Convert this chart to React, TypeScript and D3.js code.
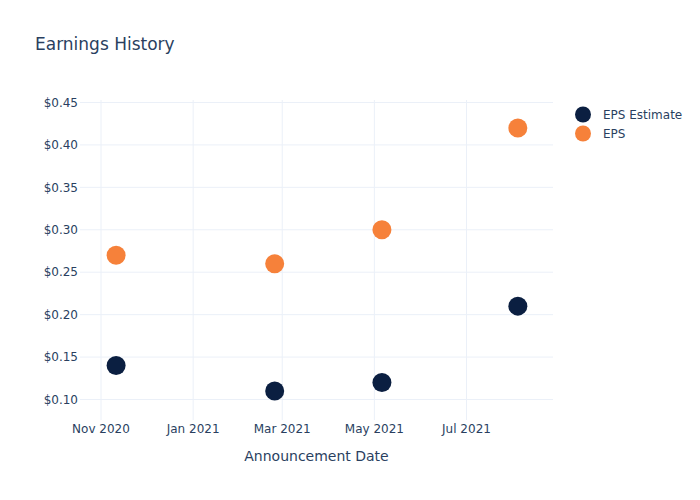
import React from "react";
import * as d3 from "d3";

const dates = ["2020-11-11", "2021-02-24", "2021-05-06", "2021-08-04"];
const epsEstimate = [0.14, 0.11, 0.12, 0.21];
const eps = [0.27, 0.26, 0.3, 0.42];
const yTicks = [0.1, 0.15, 0.2, 0.25, 0.3, 0.35, 0.4, 0.45];
const xTicks = ["2020-11-01", "2021-01-01", "2021-03-01", "2021-05-01", "2021-07-01"];
const seriesNames = ["EPS Estimate", "EPS"];
const colors = ["#0b1f41", "#f6813a"];

const W = 700, H = 500;
const L = 80, R = 553, T = 100, B = 420;
const font = "'DejaVu Sans', Verdana, sans-serif";
const textColor = "#2a3f5f";
const gridColor = "#ebf0f8";

export default function App() {
  const parse = d3.utcParse("%Y-%m-%d");
  const d0 = parse("2020-11-01")!;
  const d1 = parse("2021-07-01")!;
  const pxPerMs = (466.5 - 101) / (d1.getTime() - d0.getTime());
  const x = d3
    .scaleUtc()
    .domain([
      new Date(d0.getTime() - (101 - L) / pxPerMs),
      new Date(d1.getTime() + (R - 466.5) / pxPerMs),
    ])
    .range([L, R]);
  const yPer = (399.5 - 102.5) / 0.35;
  const y = d3
    .scaleLinear()
    .domain([0.1 - (B - 399.5) / yPer, 0.45 + (102.5 - T) / yPer])
    .range([B, T]);
  const fmtX = d3.utcFormat("%b %Y");
  const series = [epsEstimate, eps];

  return (
    <svg
      width={W}
      height={H}
      style={{ position: "absolute", left: 0, top: 0, background: "#fff" }}
      fontFamily={font}
    >
      <rect x={0} y={0} width={W} height={H} fill="#fff" />
      {yTicks.map((t) => (
        <g key={t}>
          <line x1={L} x2={R} y1={y(t)} y2={y(t)} stroke={gridColor} strokeWidth={1} />
          <text x={L - 2} y={y(t)} dy="0.35em" textAnchor="end" fontSize={12} fill={textColor}>
            {d3.format("$.2f")(t)}
          </text>
        </g>
      ))}
      {xTicks.map((s) => {
        const d = parse(s)!;
        return (
          <g key={s}>
            <line x1={x(d)} x2={x(d)} y1={T} y2={B} stroke={gridColor} strokeWidth={1} />
            <text x={x(d)} y={B + 13} textAnchor="middle" fontSize={12} fill={textColor}>
              {fmtX(d)}
            </text>
          </g>
        );
      })}
      {series.map((vals, si) =>
        vals.map((v, i) => (
          <circle
            key={si + "-" + i}
            cx={x(parse(dates[i])!)}
            cy={y(v)}
            r={9.5}
            fill={colors[si]}
          />
        ))
      )}
      <text x={35} y={50} fontSize={17} fill={textColor}>
        Earnings History
      </text>
      <text x={(L + R) / 2} y={461} textAnchor="middle" fontSize={14} fill={textColor}>
        Announcement Date
      </text>
      {seriesNames.map((n, i) => (
        <g key={n} transform={`translate(583, ${114.5 + i * 19})`}>
          <circle cx={0} cy={0} r={8} fill={colors[i]} />
          <text x={20} y={0} dy="0.35em" fontSize={12} fill={textColor}>
            {n}
          </text>
        </g>
      ))}
    </svg>
  );
}
